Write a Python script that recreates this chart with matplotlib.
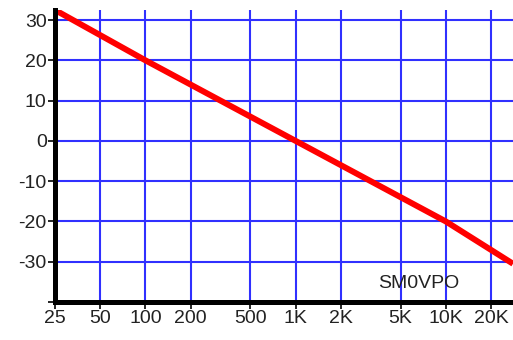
import matplotlib
import matplotlib.pyplot as plt
matplotlib.use('agg')

# frequency response (Hz, dB)
freq = [25, 100, 1000, 10000, 28000]
level = [32.5, 20, 0, -20, -30.5]

# axis ticks
x_ticks = [25, 50, 100, 200, 500, 1000, 2000, 5000, 10000, 20000]
x_labels = ['25', '50', '100', '200', '500', '1K', '2K', '5K', '10K', '20K']
y_ticks = [30, 20, 10, 0, -10, -20, -30, -40]
y_labels = ['30', '20', '10', '0', '-10', '-20', '-30', '']

plt.rcParams['font.family'] = ['Liberation Sans', 'DejaVu Sans']
plt.rcParams['axes.unicode_minus'] = False

fig = plt.figure(figsize=(5.13, 3.40), dpi=100)
ax = fig.add_axes([55 / 513, 38 / 340, 458 / 513, 292 / 340])

ax.set_xscale('log')
ax.set_xlim(25, 28000)
ax.set_ylim(-40, 32.5)

# blue grid
for f in x_ticks[1:]:
    ax.axvline(f, color='#3030ff', lw=1.5, zorder=1)
for v in y_ticks[:-1]:
    ax.axhline(v, color='#3030ff', lw=1.5, zorder=1)

ax.plot(freq, level, color='#ff0000', lw=4.3, solid_capstyle='butt', zorder=3)

ax.set_xticks(x_ticks)
ax.set_xticklabels(x_labels)
ax.xaxis.set_minor_locator(matplotlib.ticker.NullLocator())
ax.set_yticks(y_ticks)
ax.set_yticklabels(y_labels)

ax.tick_params(axis='both', direction='out', length=5, width=1.2, color='black',
               labelsize=14, labelcolor='#222222', pad=1)

ax.spines['top'].set_visible(False)
ax.spines['right'].set_visible(False)
ax.spines['left'].set_linewidth(3.6)
ax.spines['bottom'].set_linewidth(3.6)
ax.spines['left'].set_zorder(4)
ax.spines['bottom'].set_zorder(4)

ax.text(0.795, 0.065, 'SM0VPO', transform=ax.transAxes, ha='center', va='center',
        fontsize=14, color='#222222')

fig.savefig('out.png', dpi=100, facecolor='white')
